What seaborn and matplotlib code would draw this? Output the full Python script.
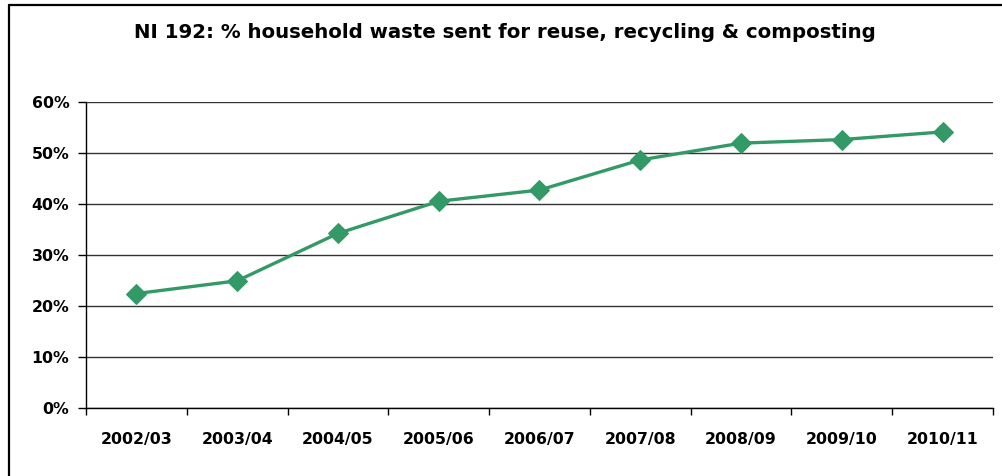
import matplotlib
matplotlib.use("Agg")
import matplotlib.pyplot as plt
from matplotlib.lines import Line2D
from matplotlib.ticker import FuncFormatter, MultipleLocator
import pandas as pd
import seaborn as sns

# data
years = ["2002/03", "2003/04", "2004/05", "2005/06", "2006/07",
         "2007/08", "2008/09", "2009/10", "2010/11"]
pct_recycled = [22.5, 25.0, 34.3, 40.6, 42.8, 48.7, 52.0, 52.7, 54.2]

df = pd.DataFrame({"year": years, "pct": pct_recycled})

sns.set_style("white")
plt.rcParams["font.family"] = ["DejaVu Sans"]
plt.rcParams["text.color"] = "black"
plt.rcParams["xtick.color"] = "black"
plt.rcParams["ytick.color"] = "black"

fig = plt.figure(figsize=(10.02, 4.76), dpi=100)
ax = fig.add_axes([0.0858, 0.1422, 0.9052, 0.6428])

sns.lineplot(data=df, x="year", y="pct", ax=ax, color="#339966",
             linewidth=2.4, marker="D", markersize=10.5,
             markeredgecolor="#339966", sort=False)

ax.set_ylim(0, 60)
ax.set_xlim(-0.5, len(years) - 0.5)
ax.yaxis.set_major_locator(MultipleLocator(10))
ax.yaxis.set_major_formatter(FuncFormatter(lambda v, _: f"{v:.0f}%"))
ax.grid(axis="y", color="#333333", linewidth=1)
ax.set_axisbelow(True)

# category boundaries get the tick marks, labels sit in the middle
ax.set_xticks(range(len(years)))
ax.set_xticklabels(years)
ax.set_xticks([i - 0.5 for i in range(len(years) + 1)], minor=True)
ax.tick_params(axis="x", which="major", bottom=True, length=0, pad=17, labelsize=11.3)
ax.tick_params(axis="x", which="minor", bottom=True, length=5, width=1, color="black", direction="out")
ax.tick_params(axis="y", left=True, length=6, width=1, color="black", direction="out", pad=6, labelsize=11.3)
for lab in ax.get_xticklabels() + ax.get_yticklabels():
    lab.set_fontweight("bold")
    lab.set_color("black")

for side in ["top", "right"]:
    ax.spines[side].set_visible(False)
for side in ["left", "bottom"]:
    ax.spines[side].set_color("black")
    ax.spines[side].set_linewidth(1)

ax.set_xlabel("")
ax.set_ylabel("")

fig.text(0.504, 1 - 33 / 476, "NI 192: % household waste sent for reuse, recycling & composting",
         ha="center", va="center", fontsize=14.2, fontweight="bold", color="black")

# outer chart frame (only top and left edges are visible)
fig.add_artist(Line2D([9 / 1002, 1], [1 - 5 / 476, 1 - 5 / 476], color="black", linewidth=1.6))
fig.add_artist(Line2D([9 / 1002, 9 / 1002], [0, 1 - 5 / 476], color="black", linewidth=1.6))

fig.savefig("out.png", dpi=100)
